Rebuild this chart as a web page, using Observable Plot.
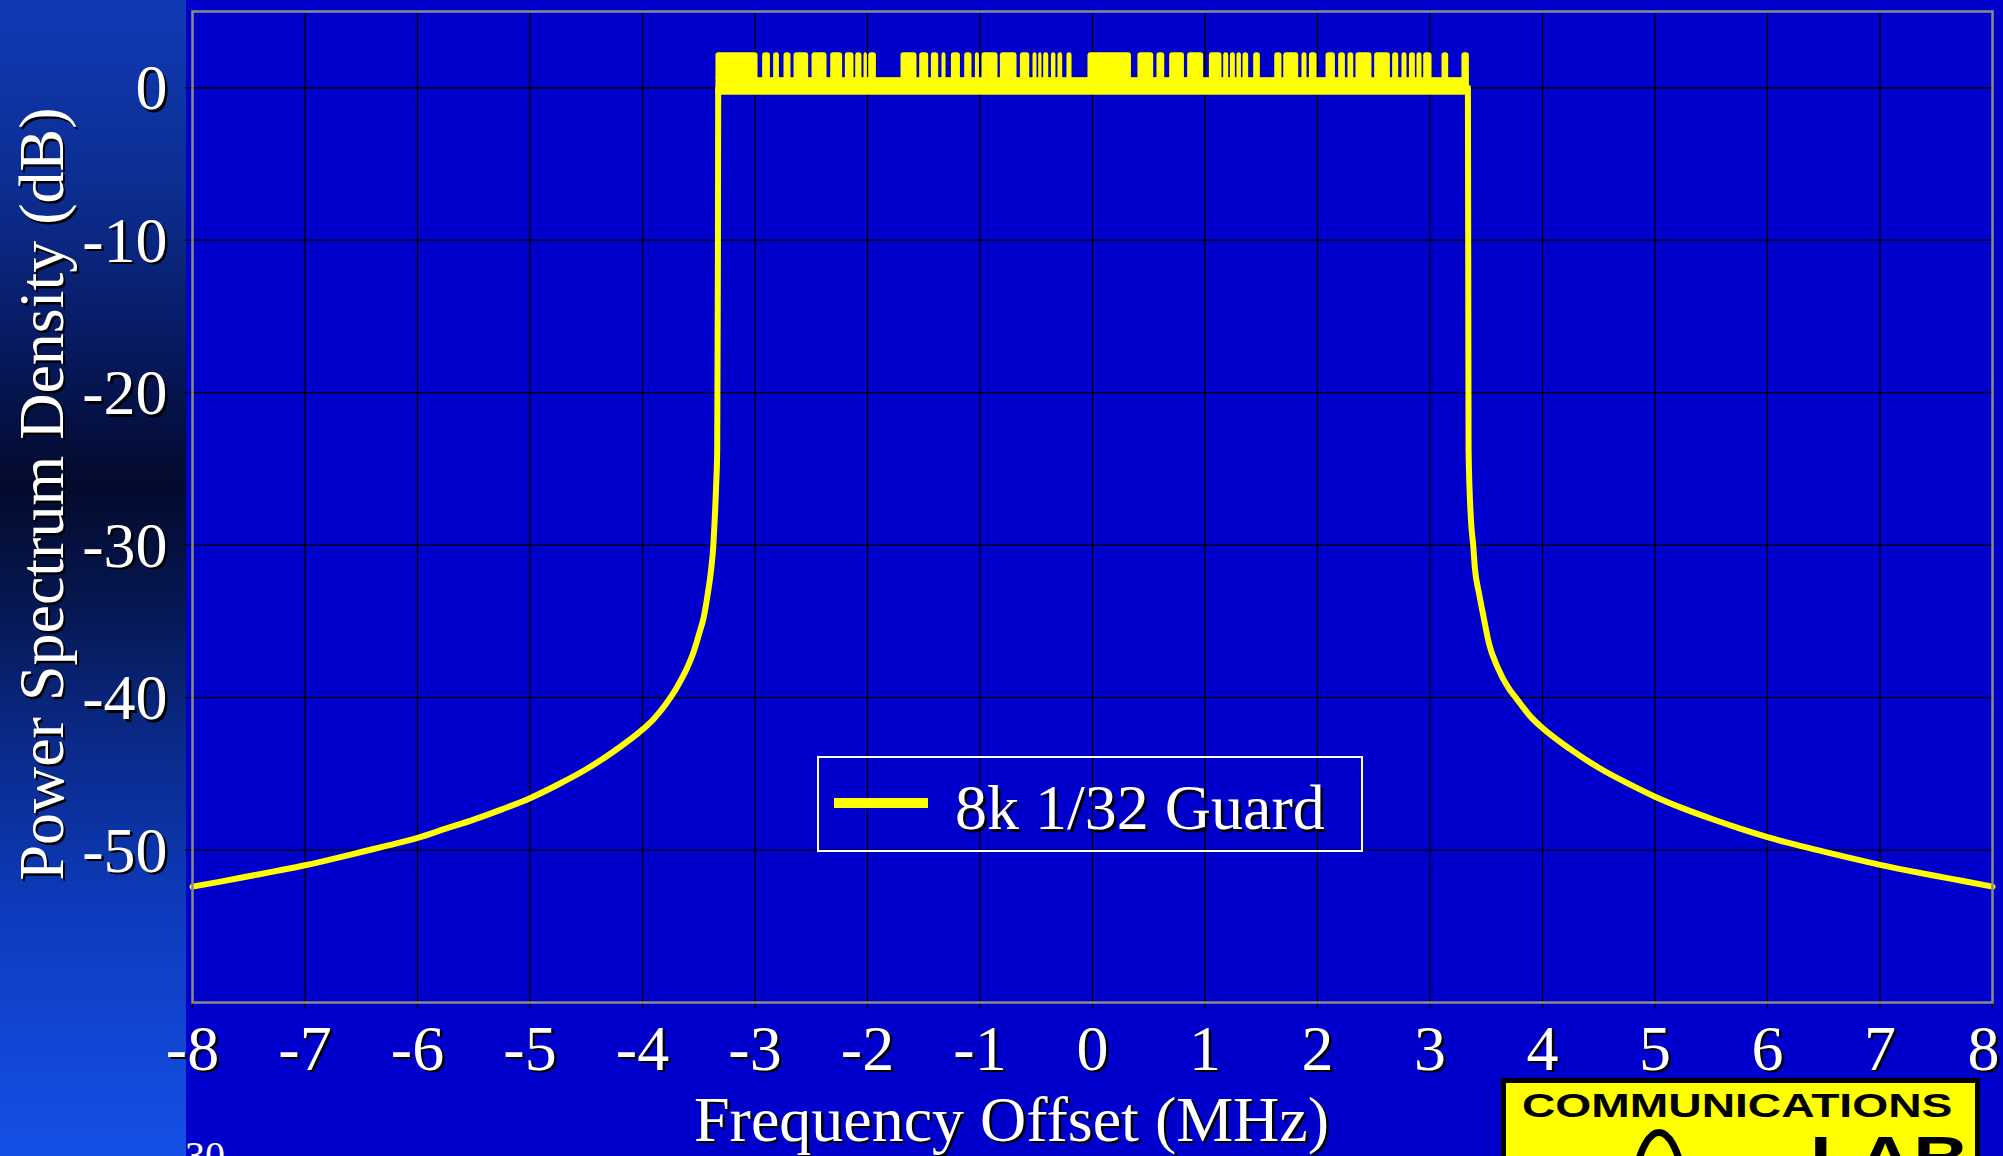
<!DOCTYPE html>
<html>
<head>
<meta charset="utf-8">
<script src="https://cdn.jsdelivr.net/npm/d3@7"></script>
<script src="https://cdn.jsdelivr.net/npm/@observablehq/plot@0.6"></script>
<style>
  html, body { margin: 0; padding: 0; background: #0000cc; overflow: hidden; width: 2003px; height: 1156px; }
  #stage { position: relative; width: 2003px; height: 1156px; overflow: hidden; background: #0000cc; }
  #panel { position: absolute; left: 0; top: 0; width: 186px; height: 1156px;
    background: linear-gradient(to bottom, #1039b5 0%, #0c2e92 16%, #07195e 30%, #030a2c 42%, #061750 52%, #0a2a88 64%, #0e3cc0 80%, #1450e6 100%); }
  #chart { position: absolute; left: 0; top: 0; }
  #legend { position: absolute; left: 817px; top: 756px; width: 546px; height: 96px; box-sizing: border-box;
    border: 2.5px solid #ffffff; }
  #legend .swatch { position: absolute; left: 15px; top: 40px; width: 94px; height: 10px; background: #ffff00; }
  #legend .label { position: absolute; left: 136px; top: 18px; font: 64px/64px "Liberation Serif", "Times New Roman", serif;
    color: #fff; white-space: nowrap; text-shadow: 2.5px 2.5px 0 #000; }
  #page { position: absolute; left: 185px; top: 1136px; font: 40px/40px "Liberation Serif", serif; color: #fff; }
  #logo { position: absolute; left: 1501px; top: 1078px; width: 479px; height: 110px; box-sizing: border-box;
    background: #ffff00; border: 5px solid #000; overflow: hidden; }
  #logo .t1 { position: absolute; left: 16px; top: 6px; font: bold 33px/33px "Liberation Sans", Arial, sans-serif; color: #000;
    transform: scaleX(1.4); transform-origin: left top; white-space: nowrap; }
  #logo .t2 { position: absolute; left: 304px; top: 44px; font: bold 62px/62px "Liberation Sans", Arial, sans-serif; color: #000;
    transform: scaleX(1.25); transform-origin: left top; white-space: nowrap; }
  #logo svg { position: absolute; left: 0; top: 0; }
</style>
</head>
<body>
<div id="stage">
  <div id="panel"></div>
  <div id="chart"></div>
  <div id="legend"><div class="swatch"></div><div class="label"></div></div>
  <div id="page">30</div>
  <div id="logo">
    <div class="t1">COMMUNICATIONS</div>
    <svg width="479" height="110"><path d="M 70 88 Q 88 70 104 88 M 128 96 C 140 34, 166 34, 178 96 M 206 88 Q 222 70 240 88" fill="none" stroke="#000" stroke-width="7"/></svg>
    <div class="t2">LAB</div>
  </div>
</div>
<script>
// ---- axis ticks ----
const xTicks = [-8, -7, -6, -5, -4, -3, -2, -1, 0, 1, 2, 3, 4, 5, 6, 7, 8];
const yTicks = [0, -10, -20, -30, -40, -50];
const xTitle = "Frequency Offset (MHz)";
const yTitle = "Power Spectrum Density (dB)";
const seriesName = "8k 1/32 Guard";

// ---- out-of-band skirts (MHz, dB) ----
const leftSkirtF  = [-8, -7.75, -7.5, -7.25, -7, -6.75, -6.5, -6.25, -6, -5.75, -5.5, -5.25, -5, -4.75, -4.5, -4.25, -4, -3.9, -3.8, -3.7, -3.6, -3.55, -3.5, -3.455, -3.42, -3.39, -3.37, -3.36, -3.345, -3.336, -3.33, -3.327];
const leftSkirtDb = [-52.4, -52.07, -51.72, -51.37, -51.0, -50.58, -50.13, -49.68, -49.2, -48.6, -48.0, -47.33, -46.6, -45.7, -44.7, -43.5, -42.1, -41.4, -40.5, -39.4, -38.0, -37.1, -35.9, -34.7, -33.2, -31.6, -30.0, -28.6, -26.0, -23.8, -12.0, 0];
const rightSkirtF  = [3.337, 3.34, 3.343, 3.363, 3.384, 3.399, 3.437, 3.476, 3.526, 3.6, 3.7, 3.772, 3.9, 4, 4.25, 4.5, 4.75, 5, 5.25, 5.5, 5.75, 6, 6.25, 6.5, 6.75, 7, 7.25, 7.5, 7.75, 8];
const rightSkirtDb = [0, -12.0, -23.8, -28.2, -30.0, -31.5, -33.2, -34.7, -36.5, -38.0, -39.4, -40.1, -41.3, -42.0, -43.4, -44.6, -45.6, -46.5, -47.27, -47.95, -48.58, -49.15, -49.65, -50.1, -50.55, -50.97, -51.35, -51.7, -52.05, -52.4];

// ---- in-band ripple band (dB) ----
const bandStartF = -3.347, bandEndF = 3.350;
const bandLowDb = -0.49, bandHighDb = 0.66;

// ---- in-band peaks (comb teeth, MHz) ----
const toothStart = [-3.347, -2.932, -2.834, -2.742, -2.653, -2.493, -2.327, -2.197, -2.105, -2.031, -1.989,
  -1.702, -1.536, -1.432, -1.338, -1.254, -1.136, -1.041, -0.982, -0.819, -0.641, -0.529, -0.478, -0.434, -0.365, -0.307, -0.227,
  -0.040, 0.404, 0.573, 0.686, 0.846, 1.039, 1.166, 1.226, 1.284, 1.338, 1.433,
  1.620, 1.700, 1.862, 1.928, 2.076, 2.188, 2.271, 2.342, 2.508, 2.668, 2.751, 2.817, 2.884, 2.944, 3.107, 3.284];
const toothEnd = [-2.973, -2.863, -2.783, -2.680, -2.523, -2.360, -2.221, -2.120, -2.049, -2.001, -1.921,
  -1.560, -1.456, -1.367, -1.302, -1.174, -1.071, -1.005, -0.840, -0.671, -0.558, -0.493, -0.449, -0.389, -0.325, -0.265, -0.182,
  0.346, 0.544, 0.642, 0.817, 0.988, 1.151, 1.211, 1.270, 1.324, 1.388, 1.492,
  1.684, 1.833, 1.907, 1.996, 2.159, 2.248, 2.322, 2.484, 2.648, 2.722, 2.796, 2.870, 2.929, 3.018, 3.166, 3.350];
const toothTopDb = 2.30;

// ---- build tables ----
const leftSkirt = leftSkirtF.map((f, i) => ({f, db: leftSkirtDb[i]}));
const rightSkirt = rightSkirtF.map((f, i) => ({f, db: rightSkirtDb[i]}));
const band = [{f1: bandStartF, f2: bandEndF, lo: bandLowDb, hi: bandHighDb}];
const teeth = toothStart.map((s, i) => ({start: s, end: toothEnd[i], base: bandHighDb - 0.2, top: toothTopDb}));

const BLUE = "#0000cc", YELLOW = "#ffff00";
const SERIF = '"Liberation Serif", "Times New Roman", serif';
const FS = 64, SH = 2.5;

function labelPair(data, opts) {
  const {dx = 0, dy = 0, ...rest} = opts;
  return [
    Plot.text(data, {lineAnchor: "middle", ...rest, dx: dx + SH, dy: dy + SH, fill: "black", fontFamily: SERIF, fontSize: FS}),
    Plot.text(data, {lineAnchor: "middle", ...rest, dx, dy, fill: "white", fontFamily: SERIF, fontSize: FS})
  ];
}

const chart = Plot.plot({
  width: 2003,
  height: 1156,
  marginLeft: 192,
  marginRight: 11,
  marginTop: 11,
  marginBottom: 154,
  x: {domain: [-8, 8]},
  y: {domain: [-60, 5]},
  style: {background: "transparent", overflow: "visible", fontFamily: SERIF},
  marks: [
    Plot.frame({fill: BLUE}),
    Plot.gridX(xTicks, {stroke: "black", strokeOpacity: 1, strokeWidth: 1.3}),
    Plot.gridY(yTicks, {stroke: "black", strokeOpacity: 1, strokeWidth: 1.3}),
    Plot.axisX(xTicks, {tickSize: 7, stroke: "black", strokeWidth: 1.3, fill: "none", label: null}),
    Plot.axisY(yTicks, {tickSize: 7, stroke: "black", strokeWidth: 1.3, fill: "none", label: null}),
    Plot.rect(band, {x1: "f1", x2: "f2", y1: "lo", y2: "hi", fill: YELLOW}),
    Plot.rect(teeth, {x1: "start", x2: "end", y1: "base", y2: "top", fill: YELLOW, rx: 3}),
    Plot.line(leftSkirt, {x: "f", y: "db", stroke: YELLOW, strokeWidth: 6, strokeLinejoin: "round", curve: "monotone-x"}),
    Plot.line(rightSkirt, {x: "f", y: "db", stroke: YELLOW, strokeWidth: 6, strokeLinejoin: "round", curve: "monotone-x"}),
    Plot.frame({stroke: "#8a8a8a", strokeWidth: 2.5}),
    ...labelPair(xTicks.slice(0, -1), {x: d => d, text: d => String(d), frameAnchor: "bottom", textAnchor: "middle", dy: 47}),
    ...labelPair(xTicks.slice(-1), {x: d => d, text: d => String(d), frameAnchor: "bottom", textAnchor: "middle", dx: -9, dy: 47}),
    ...labelPair(yTicks, {y: d => d, text: d => String(d), frameAnchor: "left", textAnchor: "end", dx: -25, dy: 1}),
    ...labelPair([xTitle], {text: d => d, frameAnchor: "bottom", textAnchor: "middle", dx: -81, dy: 118}),
    ...labelPair([yTitle], {text: d => d, frameAnchor: "left", textAnchor: "middle", rotate: -90, dx: -150, dy: -13})
  ]
});
document.getElementById("chart").appendChild(chart);
document.querySelector("#legend .label").textContent = seriesName;
</script>
</body>
</html>
